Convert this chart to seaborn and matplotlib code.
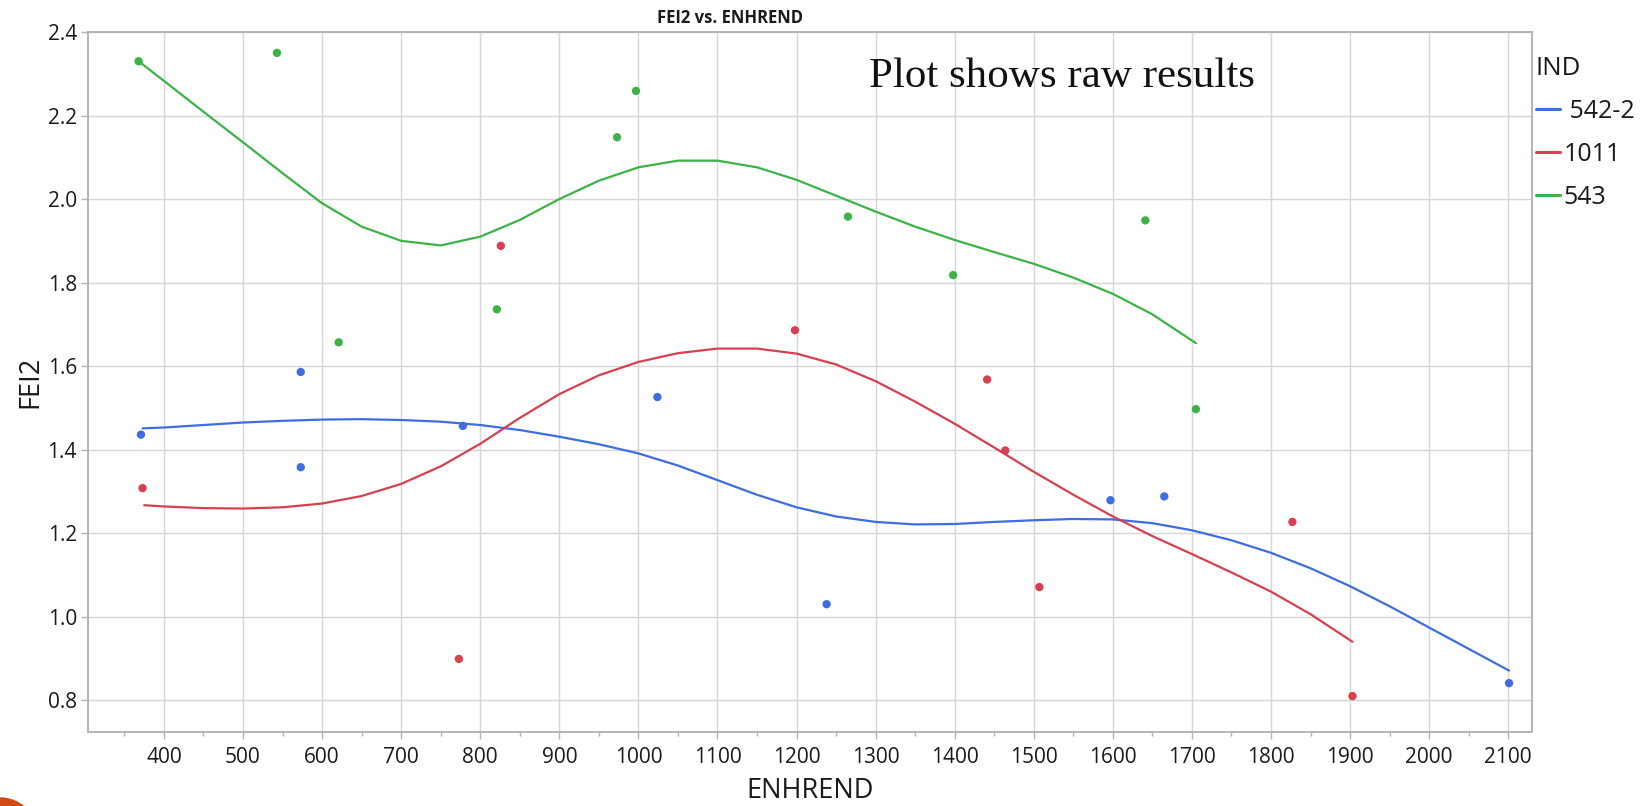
import numpy as np
import pandas as pd
import seaborn as sns
import matplotlib
matplotlib.use("Agg")
import matplotlib.pyplot as plt
from matplotlib.lines import Line2D
from matplotlib.patches import Circle
from matplotlib.ticker import MultipleLocator

# ---------------- data ----------------
groups = ["542-2", "1011", "543"]
colors = ["#3d6de0", "#d83f50", "#3bb346"]

# raw points
x_542 = [371, 573, 573, 778, 1024, 1238, 1597, 1665, 2101]
y_542 = [1.436, 1.358, 1.586, 1.457, 1.526, 1.030, 1.279, 1.288, 0.841]

x_1011 = [373, 773, 826, 1198, 1441, 1464, 1507, 1827, 1903]
y_1011 = [1.308, 0.899, 1.888, 1.686, 1.568, 1.398, 1.071, 1.227, 0.810]

x_543 = [368, 543, 621, 821, 973, 997, 1265, 1398, 1641, 1705]
y_543 = [2.330, 2.350, 1.657, 1.736, 2.148, 2.259, 1.958, 1.818, 1.949, 1.497]

# fitted smoothing-spline curves
cx_542 = [373, 400, 450, 500, 550, 600, 650, 700, 750, 800, 850, 900, 950, 1000,
          1050, 1100, 1150, 1200, 1250, 1300, 1350, 1400, 1450, 1500, 1550, 1600,
          1650, 1700, 1750, 1800, 1850, 1900, 1950, 2000, 2050, 2101]
cy_542 = [1.451, 1.453, 1.459, 1.465, 1.469, 1.472, 1.473, 1.471, 1.467, 1.459,
          1.447, 1.431, 1.413, 1.391, 1.362, 1.327, 1.292, 1.262, 1.240, 1.227,
          1.221, 1.222, 1.227, 1.231, 1.234, 1.233, 1.224, 1.207, 1.183, 1.153,
          1.116, 1.073, 1.025, 0.974, 0.923, 0.871]

cx_1011 = [375, 400, 450, 500, 550, 600, 650, 700, 750, 800, 850, 900, 950, 1000,
           1050, 1100, 1150, 1200, 1250, 1300, 1350, 1400, 1450, 1500, 1550, 1600,
           1650, 1700, 1750, 1800, 1850, 1903]
cy_1011 = [1.267, 1.264, 1.260, 1.259, 1.262, 1.271, 1.289, 1.318, 1.360, 1.414,
           1.476, 1.533, 1.578, 1.610, 1.631, 1.642, 1.642, 1.630, 1.604, 1.564,
           1.515, 1.462, 1.405, 1.347, 1.292, 1.240, 1.193, 1.150, 1.106, 1.060,
           1.006, 0.940]

cx_543 = [368, 400, 450, 500, 550, 600, 650, 700, 750, 800, 850, 900, 950, 1000,
          1050, 1100, 1150, 1200, 1250, 1300, 1350, 1400, 1450, 1500, 1550, 1600,
          1650, 1705]
cy_543 = [2.330, 2.283, 2.209, 2.136, 2.062, 1.990, 1.934, 1.900, 1.889, 1.910,
          1.950, 2.000, 2.044, 2.076, 2.092, 2.092, 2.076, 2.046, 2.008, 1.970,
          1.934, 1.902, 1.873, 1.845, 1.812, 1.773, 1.724, 1.655]

x_ticks = list(range(400, 2101, 100))
y_ticks = [0.8, 1.0, 1.2, 1.4, 1.6, 1.8, 2.0, 2.2, 2.4]

# ---------------- frames ----------------
pts = pd.concat([
    pd.DataFrame({"ENHREND": x_542, "FEI2": y_542, "IND": "542-2"}),
    pd.DataFrame({"ENHREND": x_1011, "FEI2": y_1011, "IND": "1011"}),
    pd.DataFrame({"ENHREND": x_543, "FEI2": y_543, "IND": "543"}),
], ignore_index=True)
crv = pd.concat([
    pd.DataFrame({"ENHREND": cx_542, "FEI2": cy_542, "IND": "542-2"}),
    pd.DataFrame({"ENHREND": cx_1011, "FEI2": cy_1011, "IND": "1011"}),
    pd.DataFrame({"ENHREND": cx_543, "FEI2": cy_543, "IND": "543"}),
], ignore_index=True)

# ---------------- style ----------------
sns.set_theme(style="white")
plt.rcParams["font.family"] = ["Open Sans", "DejaVu Sans"]
palette = dict(zip(groups, colors))

W, H = 1649, 806
fig = plt.figure(figsize=(W / 100, H / 100), dpi=100)
ax = fig.add_axes([88 / W, 1 - 732 / H, (1532 - 88) / W, (732 - 32) / H])

sns.lineplot(data=crv, x="ENHREND", y="FEI2", hue="IND", hue_order=groups,
             palette=palette, linewidth=1.6, legend=False, ax=ax, sort=True,
             estimator=None)
sns.scatterplot(data=pts, x="ENHREND", y="FEI2", hue="IND", hue_order=groups,
                palette=palette, s=36, linewidth=0, legend=False, ax=ax, zorder=3)

ax.set_xlim(304, 2130)
ax.set_ylim(0.724, 2.4)
ax.set_xticks(x_ticks)
ax.set_yticks(y_ticks)
ax.set_yticklabels([f"{v:.1f}" for v in y_ticks])
ax.xaxis.set_minor_locator(MultipleLocator(50))
ax.grid(True, which="major", color="#d6d6d6", linewidth=1.0)
ax.set_axisbelow(True)
for s in ax.spines.values():
    s.set_color("#b4b4b4")
    s.set_linewidth(1.4)
ax.tick_params(axis="both", which="major", direction="out", length=5, width=1,
               color="#b4b4b4", labelsize=15, labelcolor="#1a1a1a", pad=3)
ax.tick_params(axis="x", which="minor", direction="out", length=3, width=1,
               color="#b4b4b4", bottom=True)
ax.tick_params(axis="x", which="major", pad=6)
ax.tick_params(axis="y", left=True)
ax.tick_params(axis="x", bottom=True)

ax.set_xlabel("ENHREND", fontsize=19.5, color="#1a1a1a", labelpad=6)
ax.set_ylabel("FEI2", fontsize=19.5, color="#1a1a1a", labelpad=2)

fig.text(730 / W, 1 - 18 / H, "FEI2 vs. ENHREND", ha="center", va="center",
         fontsize=12, fontweight="bold", color="#1a1a1a")

fig.text(869 / W, 1 - 87 / H, "Plot shows raw results", ha="left", va="baseline",
         fontsize=31, family=["Liberation Serif", "DejaVu Serif"], color="#111111")

handles = [Line2D([0], [0], color=c, linewidth=2.2) for c in colors]
labels = [" " + groups[0]] + groups[1:]
leg = ax.legend(handles, labels, title="IND", loc="upper left",
                bbox_to_anchor=(1536 / W, 1 - 56 / H), bbox_transform=fig.transFigure,
                frameon=False, fontsize=18, title_fontsize=18.5,
                handlelength=0.95, handletextpad=0.15, labelspacing=0.72,
                borderaxespad=0, borderpad=0)
leg._legend_box.align = "left"
for t in leg.get_texts():
    t.set_color("#1a1a1a")
leg.get_title().set_color("#1a1a1a")

# slide decoration in the bottom-left corner
fig.patches.append(Circle((0, -30), 38, transform=None, color="#d04a14",
                          figure=fig, zorder=0))

fig.savefig("out.png", dpi=100)
